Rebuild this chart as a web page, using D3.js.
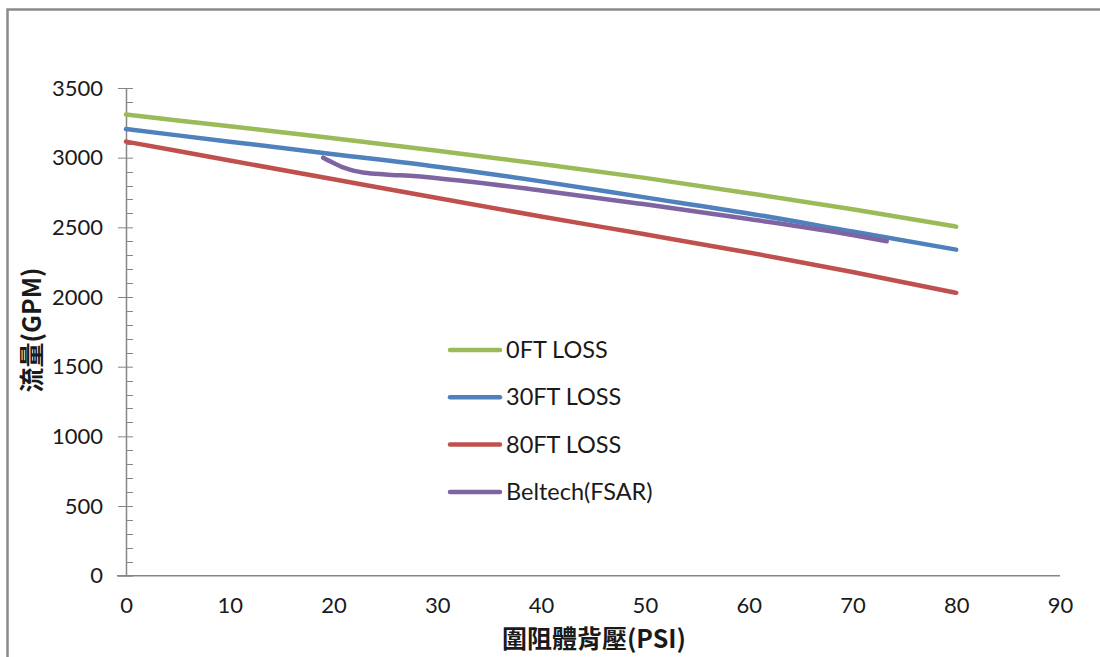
<!DOCTYPE html>
<html>
<head>
<meta charset="utf-8">
<script src="https://cdn.jsdelivr.net/npm/d3@7"></script>
<style>
  body { margin: 0; background: #fff; }
  text { font-family: Lato, "Liberation Sans", sans-serif; fill: #1a1a1a; }
</style>
</head>
<body>
<div id="chart"></div>
<script>
// data
const psi = [0, 10, 20, 30, 40, 50, 60, 70, 80];
const loss0 = [3310, 3225, 3140, 3050, 2955, 2855, 2745, 2630, 2505];
const loss30 = [3205, 3115, 3025, 2935, 2830, 2715, 2600, 2470, 2340];
const loss80 = [3115, 2980, 2845, 2710, 2578, 2450, 2320, 2180, 2030];
const beltechPsi = [19, 20, 21, 22, 23, 25, 28, 30, 40, 50, 60, 70, 73.3];
const beltechGpm = [3000, 2962, 2928, 2905, 2892, 2880, 2866, 2853, 2765, 2665, 2560, 2445, 2400];

const seriesNames = ["0FT LOSS", "30FT LOSS", "80FT LOSS", "Beltech(FSAR)"];
const seriesColors = ["#9BBB59", "#4F81BD", "#C0504D", "#8064A2"];

const xTicks = [0, 10, 20, 30, 40, 50, 60, 70, 80, 90];
const yTicks = [0, 500, 1000, 1500, 2000, 2500, 3000, 3500];

const width = 1100, height = 657;
const margin = { top: 88, right: 40, bottom: 81, left: 126 };

const svg = d3.select("#chart").append("svg")
  .attr("width", width)
  .attr("height", height);

// outer frame (only top + left visible in the crop)
svg.append("path")
  .attr("d", `M7.5,${height} V9.5 H${width}`)
  .attr("fill", "none")
  .attr("stroke", "#8a8a8a")
  .attr("stroke-width", 2.5);

const x = d3.scaleLinear().domain([0, 90]).range([margin.left, 1060]);
const y = d3.scaleLinear().domain([0, 3500]).range([height - margin.bottom - 0.3, margin.top]);

const axisColor = "#868686";

// y axis: major ticks crossing, minor ticks inside
const minor = d3.range(0, 3501, 100).filter(v => v % 500 !== 0);
svg.append("g").selectAll("line.minor")
  .data(minor)
  .join("line")
  .attr("x1", x(0)).attr("x2", x(0) + 7)
  .attr("y1", d => Math.round(y(d)) + 0.5).attr("y2", d => Math.round(y(d)) + 0.5)
  .attr("stroke", axisColor);

const yAxis = svg.append("g")
  .attr("transform", `translate(${x(0) + 7},0)`)
  .call(d3.axisLeft(y).tickValues(yTicks).tickFormat(d3.format("d"))
    .tickSize(15).tickPadding(15).tickSizeOuter(0));
yAxis.select(".domain").remove();
yAxis.selectAll("line").attr("stroke", axisColor);
yAxis.selectAll("text").style("font-size", "22px").attr("fill", "#1a1a1a");

svg.append("line")
  .attr("x1", x(0) + 0.5).attr("x2", x(0) + 0.5)
  .attr("y1", y(3500)).attr("y2", y(0))
  .attr("stroke", axisColor).attr("stroke-width", 1.5);

// x axis: no ticks
const xAxis = svg.append("g")
  .attr("transform", `translate(0,${y(0)})`)
  .call(d3.axisBottom(x).tickValues(xTicks).tickSize(0).tickPadding(22));
xAxis.select(".domain").remove();
xAxis.selectAll("text").style("font-size", "22px").attr("fill", "#1a1a1a");

svg.append("line")
  .attr("x1", 117).attr("x2", x(90))
  .attr("y1", y(0)).attr("y2", y(0))
  .attr("stroke", axisColor).attr("stroke-width", 1.5);

// axis titles
svg.append("text")
  .attr("x", 594).attr("y", 648)
  .attr("text-anchor", "middle")
  .style("font-family", "'Noto Sans CJK TC', sans-serif")
  .style("font-size", "25px")
  .style("font-weight", "bold")
  .text("圍阻體背壓(PSI)");

svg.append("text")
  .attr("transform", "translate(41,330) rotate(-90)")
  .attr("text-anchor", "middle")
  .style("font-family", "'Noto Sans CJK TC', sans-serif")
  .style("font-size", "25px")
  .style("font-weight", "bold")
  .text("流量(GPM)");

// series
const line = d3.line()
  .x(d => x(d[0]))
  .y(d => y(d[1]))
  .curve(d3.curveMonotoneX);

const series = [
  psi.map((p, i) => [p, loss0[i]]),
  psi.map((p, i) => [p, loss30[i]]),
  psi.map((p, i) => [p, loss80[i]]),
  beltechPsi.map((p, i) => [p, beltechGpm[i]])
];

svg.append("g").selectAll("path")
  .data(series)
  .join("path")
  .attr("d", line)
  .attr("fill", "none")
  .attr("stroke", (d, i) => seriesColors[i])
  .attr("stroke-width", 4.5)
  .attr("stroke-linecap", "round")
  .attr("stroke-linejoin", "round");

// legend
const legend = svg.append("g").selectAll("g")
  .data(seriesNames)
  .join("g")
  .attr("transform", (d, i) => `translate(449,${350 + i * 47.3})`);

legend.append("line")
  .attr("x1", 1).attr("x2", 51)
  .attr("stroke", (d, i) => seriesColors[i])
  .attr("stroke-width", 4.5)
  .attr("stroke-linecap", "round");

legend.append("text")
  .attr("x", 57).attr("y", 8)
  .style("font-size", "23.5px")
  .text(d => d);
</script>
</body>
</html>
